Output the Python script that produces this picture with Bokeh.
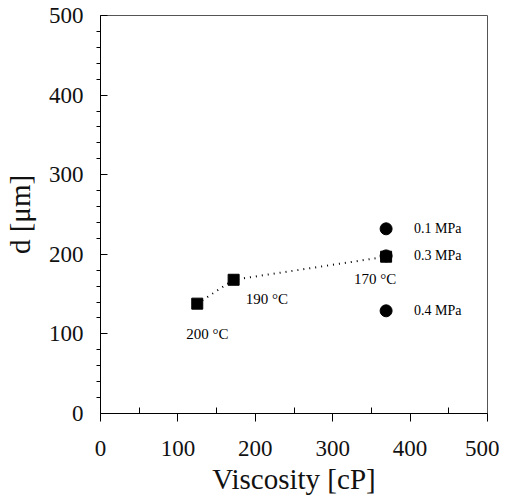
from bokeh.plotting import figure
from bokeh.models import Range1d, FixedTicker, Label
from bokeh.embed import file_html
from bokeh.resources import INLINE

# Temperature series (squares)
temp_visc = [125, 172, 369]
temp_d = [138, 168, 197]
temp_labels = ["200 °C", "190 °C", "170 °C"]

# Pressure series (circles)
pres_visc = [369, 369, 369]
pres_d = [232, 198, 129]
pres_labels = ["0.1 MPa", "0.3 MPa", "0.4 MPa"]

x_ticks = [0, 100, 200, 300, 400, 500]
y_ticks = [0, 100, 200, 300, 400, 500]

FONT = "Liberation Serif"

p = figure(width=499, height=499, output_backend="svg", toolbar_location=None,
           x_range=Range1d(0, 500), y_range=Range1d(0, 500),
           min_border_left=94, min_border_right=12, min_border_top=15, min_border_bottom=86)
p.xgrid.visible = False
p.ygrid.visible = False
p.outline_line_color = "#555555"
p.outline_line_width = 1
p.background_fill_color = "white"
p.border_fill_color = "white"

p.xaxis.ticker = FixedTicker(ticks=x_ticks, minor_ticks=[50, 150, 250, 350, 450])
p.yaxis.ticker = FixedTicker(ticks=y_ticks, minor_ticks=[v for v in range(20, 500, 20) if v % 100])

for ax in (p.xaxis[0], p.yaxis[0]):
    ax.axis_line_color = "black"
    ax.major_tick_line_color = "black"
    ax.minor_tick_line_color = "black"
    ax.major_label_text_font = FONT
    ax.major_label_text_font_size = "23px"
    ax.major_label_text_color = "#111111"
    ax.axis_label_text_font = FONT
    ax.axis_label_text_font_size = "29px"
    ax.axis_label_text_font_style = "normal"
    ax.axis_label_text_color = "#111111"

p.xaxis.major_tick_in = 0
p.xaxis.major_tick_out = 8
p.xaxis.minor_tick_in = 6
p.xaxis.minor_tick_out = 0
p.xaxis.major_label_standoff = 19
p.xaxis.axis_label = "Viscosity [cP]"
p.xaxis.axis_label_standoff = 4

p.yaxis.major_tick_in = 7
p.yaxis.major_tick_out = 0
p.yaxis.minor_tick_in = 0
p.yaxis.minor_tick_out = 4
p.yaxis.major_label_standoff = 13
p.yaxis.axis_label = "d [μm]"
p.yaxis.axis_label_standoff = 10

p.line(temp_visc, temp_d, line_color="black", line_dash="1 5", line_width=2)
p.scatter(pres_visc, pres_d, marker="circle", size=12, color="black")
p.scatter(temp_visc, temp_d, marker="square", size=11, color="black")

temp_offsets = [(-11, -30), (12, -19), (-32, -22)]
for x, y, t, (dx, dy) in zip(temp_visc, temp_d, temp_labels, temp_offsets):
    p.add_layout(Label(x=x, y=y, text=t, x_offset=dx, y_offset=dy,
                       text_font=FONT, text_font_size="15px", text_color="black",
                       text_baseline="middle"))

for x, y, t in zip(pres_visc, pres_d, pres_labels):
    p.add_layout(Label(x=x, y=y, text=t, x_offset=28, y_offset=0,
                       text_font=FONT, text_font_size="14px", text_color="black",
                       text_baseline="middle"))

open("out.html", "w").write(file_html(p, INLINE))
